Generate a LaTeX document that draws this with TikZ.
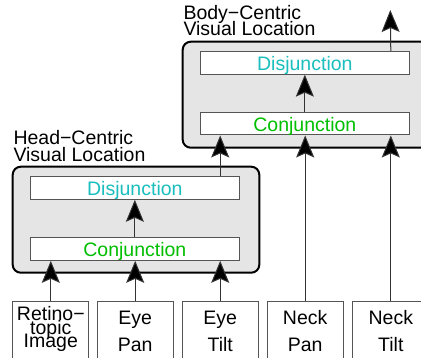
\documentclass[tikz,border=0pt]{standalone}
\usepackage{fontspec}
\setmainfont{Liberation Sans}
\usetikzlibrary{arrows.meta}
\definecolor{disjc}{RGB}{26,190,190}
\definecolor{conjc}{RGB}{0,190,0}
\definecolor{panelgray}{RGB}{229,229,229}
\definecolor{edgegray}{RGB}{85,85,85}
\begin{document}
\begin{tikzpicture}[x=1pt,y=-1pt,
  panel/.style={draw=black, line width=2pt, fill=panelgray, rounded corners=8pt,
    minimum height=106pt, anchor=north west, inner sep=0pt},
  unitbox/.style={draw=edgegray, line width=1pt, fill=white,
    minimum width=208.3pt, minimum height=22.6pt, inner sep=0pt},
  inputbox/.style={draw=edgegray, line width=1pt, fill=white,
    minimum width=76pt, minimum height=70pt, anchor=north west, inner sep=0pt},
  txt/.style={font=\fontsize{19.5}{20}\selectfont, inner sep=0pt, anchor=base},
  ltxt/.style={txt, anchor=base west},
  arr/.style={draw=black!80, line width=1pt,
    -{Stealth[length=22pt, width=18pt, inset=4pt, fill=black]}}
]
\useasboundingbox (0,0) rectangle (421,358);

% panels
\node[panel, minimum width=246.6pt] (hpanel) at (11.7,165.7) {};
\node[panel, minimum width=246.3pt] (bpanel) at (181.7,40.7) {};

% panel labels
\node[ltxt] (hlab1) at (13.3,145) {Head−Centric};
\node[ltxt] (hlab2) at (13.3,161.7) {Visual Location};
\node[ltxt] (blab1) at (183.3,20) {Body−Centric};
\node[ltxt] (blab2) at (183.3,36) {Visual Location};

% unit boxes
\node[unitbox] (hdisj) at (134.85,188) {};
\node[unitbox] (hconj) at (134.85,249) {};
\node[unitbox] (bdisj) at (304.85,62.85) {};
\node[unitbox] (bconj) at (304.85,123.65) {};
\node[txt, text=disjc] (hdisjt) at (134.85,195.6) {Disjunction};
\node[txt, text=conjc] (hconjt) at (134.85,256.2) {Conjunction};
\node[txt, text=disjc] (bdisjt) at (304.85,70.4) {Disjunction};
\node[txt, text=conjc] (bconjt) at (304.85,131.2) {Conjunction};

% input boxes
\node[inputbox] (ret) at (12.3,301) {};
\node[inputbox] (epan) at (96.7,301) {};
\node[inputbox] (etilt) at (181.7,301) {};
\node[inputbox] (npan) at (266.7,301) {};
\node[inputbox] (ntilt) at (352.3,301) {};

\node[txt] (ret1) at (ret.north |- 0,320.6) {Retino−};
\node[txt] (ret2) at (ret.north |- 0,334.3) {topic};
\node[txt] (ret3) at (ret.north |- 0,348) {Image};
\node[txt] (epan1) at (epan.north |- 0,324.6) {Eye};
\node[txt] (epan2) at (epan.north |- 0,351.7) {Pan};
\node[txt] (etilt1) at (etilt.north |- 0,324.6) {Eye};
\node[txt] (etilt2) at (etilt.north |- 0,351.7) {Tilt};
\node[txt] (npan1) at (npan.north |- 0,324.6) {Neck};
\node[txt] (npan2) at (npan.north |- 0,351.7) {Pan};
\node[txt] (ntilt1) at (ntilt.north |- 0,324.6) {Neck};
\node[txt] (ntilt2) at (ntilt.north |- 0,351.7) {Tilt};

% connectors
\draw[arr] (ret.north) -- (ret.north |- hconj.south);
\draw[arr] (epan.north) -- (epan.north |- hconj.south);
\draw[arr] (etilt.north) -- (etilt.north |- hconj.south);
\draw[arr] (hconj.north) -- (hdisj.south);
\draw[arr] (etilt.north |- hdisj.north) -- (etilt.north |- bconj.south);
\draw[arr] (npan.north) -- (npan.north |- bconj.south);
\draw[arr] (ntilt.north) -- (ntilt.north |- bconj.south);
\draw[arr] (bconj.north) -- (bdisj.south);
\coordinate (out) at (390.3,10);
\draw[arr] (ntilt.north |- bdisj.north) -- (out);
\end{tikzpicture}
\end{document}
